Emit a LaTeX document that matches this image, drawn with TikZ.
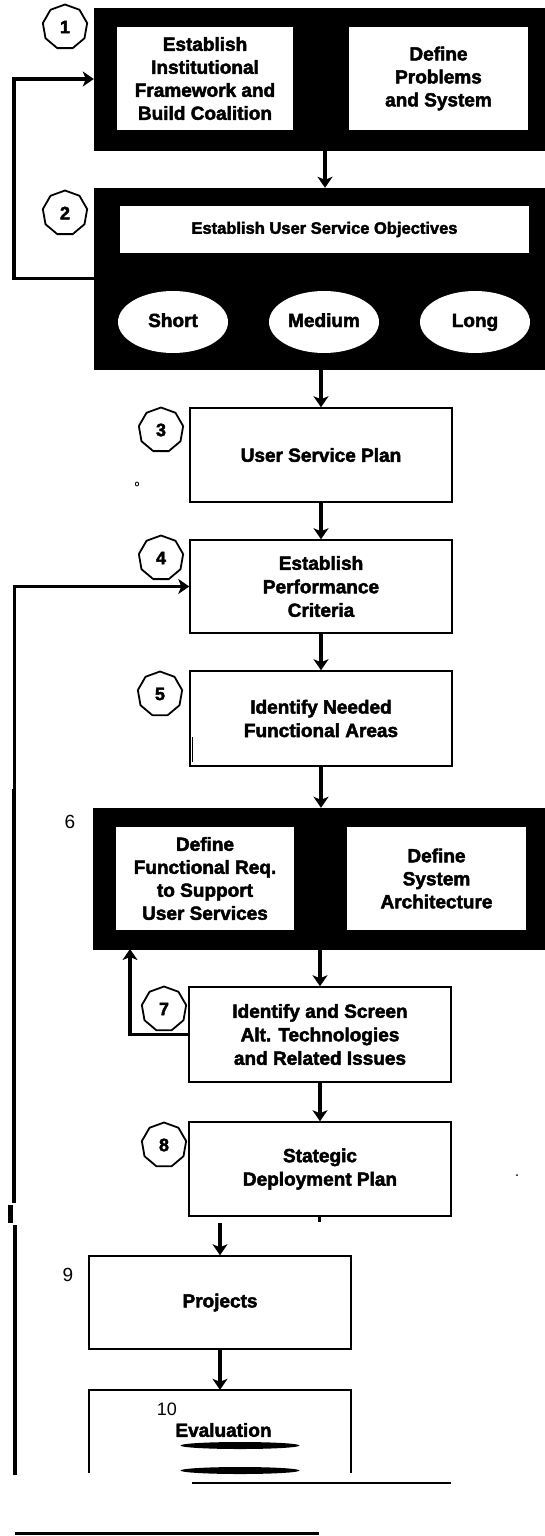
\documentclass[tikz,border=0pt]{standalone}
\usepackage{fontspec}
\setmainfont{Liberation Sans}[BoldFeatures={FakeBold=2.4}]
\usetikzlibrary{arrows.meta,shapes.geometric}

\tikzset{
  blackpanel/.style={fill=black, draw=black, inner sep=0pt},
  whitecell/.style={fill=white, draw=none, align=center, inner sep=0pt,
    font=\bfseries\fontsize{19}{23}\selectfont},
  stepbox/.style={draw=black, line width=1.5pt, fill=white, align=center,
    minimum width=262pt, minimum height=94pt, inner sep=0pt,
    font=\bfseries\fontsize{19}{23.5}\selectfont},
  badge/.style={regular polygon, regular polygon sides=9, draw=black,
    line width=1.8pt, fill=white, minimum size=45pt, inner sep=0pt,
    font=\bfseries\fontsize{18}{18}\selectfont},
  horizon/.style={ellipse, fill=white, draw=none, minimum width=110pt,
    minimum height=62pt, inner sep=0pt, text height=14pt, text depth=4pt,
    font=\bfseries\fontsize{19}{19}\selectfont},
  flow/.style={line width=3.2pt, -{Stealth[length=11pt,width=15pt,inset=3pt]}},
  plainnum/.style={font=\fontsize{19}{19}\selectfont, inner sep=0pt}
}

\begin{document}
\begin{tikzpicture}[x=1pt, y=-1pt]
\useasboundingbox (0,0) rectangle (545,1536);

% Step 1
\node[blackpanel, minimum width=451pt, minimum height=142pt] (b1) at (319.5,79) {};
\node[whitecell, minimum width=176pt, minimum height=103pt] (b1a) at (205,78.5)
  {Establish\\Institutional\\Framework and\\Build Coalition};
\node[whitecell, minimum width=179pt, minimum height=103pt] (b1b) at (438.5,78.5)
  {Define\\Problems\\and System};
\node[badge] (n1) at (65,27) {1};

% Step 2
\node[blackpanel, minimum width=451pt, minimum height=181pt] (b2) at (319.5,278.5) {};
\node[whitecell, minimum width=409pt, minimum height=47pt,
  font=\bfseries\fontsize{16.5}{16.5}\selectfont] (b2t) at (324.5,229.5)
  {Establish User Service Objectives};
\node[horizon] (short) at (173,322) {Short};
\node[horizon] (medium) at (324,322) {Medium};
\node[horizon] (long) at (475,322) {Long};
\node[badge] (n2) at (65,213) {2};

% Steps 3 to 5
\node[stepbox] (b3) at (321,455) {User Service Plan};
\node[badge] (n3) at (161,430) {3};
\node[stepbox, minimum height=93pt] (b4) at (321,586.5) {Establish\\Performance\\Criteria};
\node[stepbox, minimum height=95pt] (b5) at (321,718.5) {Identify Needed\\Functional Areas};
\node[badge] (n5) at (160,694) {5};

% Step 6
\node[blackpanel, minimum width=452pt, minimum height=141pt] (b6) at (319,878.5) {};
\node[whitecell, minimum width=178pt, minimum height=103pt] (b6a) at (205,878.5)
  {Define\\Functional Req.\\to Support\\User Services};
\node[whitecell, minimum width=179pt, minimum height=103pt] (b6b) at (436.5,878.5)
  {Define\\System\\Architecture};
\node[plainnum] (l6) at (70,822) {6};

% Steps 7 and 8
\node[stepbox, minimum height=95pt] (b7) at (320,1034.5)
  {Identify and Screen\\Alt. Technologies\\and Related Issues};
\node[stepbox] (b8) at (320,1169) {Stategic\\Deployment Plan};
\node[badge] (n8) at (164,1145) {8};

% Steps 9 and 10
\node[stepbox, minimum height=93pt] (b9) at (220,1302.5) {Projects};
\node[plainnum] (l9) at (68,1275) {9};
\node[inner sep=0pt, minimum width=262pt, minimum height=83pt] (b10) at (220,1431.5) {};
\draw[line width=1.5pt] (b10.south west) |- (b10.north east) -- (b10.south east);
\node[plainnum, font=\fontsize{18}{18}\selectfont] (l10) at (167,1409) {10};
\node[inner sep=0pt, font=\bfseries\fontsize{19}{19}\selectfont] (ev) at (223.5,1430) {Evaluation};
\fill (240,1445.5) ellipse [x radius=59.5pt, y radius=3.5pt];
\fill (240,1470.5) ellipse [x radius=59.5pt, y radius=3.5pt];

% Main flow
\draw[flow] ([xshift=5.5pt]b1.south) -- ([xshift=5.5pt]b2.north);
\draw[flow] (b2.south -| b3.north) -- (b3.north);
\draw[flow] (b3.south) -- (b4.north);
\draw[flow] (b4.south) -- (b5.north);
\draw[flow] (b5.south) -- (b5.south |- b6.north);
\draw[flow] (b7.north |- b6.south) -- (b7.north);
\draw[flow] (b7.south) -- (b8.north);
\coordinate (c89) at (220,1223);
\draw[flow] (c89) -- (b9.north);
\draw[flow] (b9.south) -- (b10.north);

% Feedback loops
\draw[flow, line width=3.5pt] (b2.west) -- ++(-80,0) |- (b1.west);
\coordinate (fbtop) at (14,791);
\coordinate (fbmid) at (14,1203);
\coordinate (fbjog) at (10.5,1205);
\coordinate (fblow) at (15,1225);
\coordinate (fbend) at (15,1475);
\draw[flow, line width=3pt] (fbtop) |- (b4.west);
\draw[line width=4.5pt] ([yshift=2pt]fbtop) -- (fbmid);
\draw[line width=4.5pt] (fbjog) -- ++(0,18);
\draw[line width=4.5pt] (fblow) -- (fbend);
\coordinate (fb7) at (130,949);
\draw[flow] (b7.west) -| (fb7);

% badges drawn over the loop lines
\node[badge] (n4) at (161,558) {4};
\node[badge] (n7) at (164,1009) {7};

% small marks
\draw[line width=1.5pt] (192.5,737) -- (192.5,762);
\draw[line width=3pt] (319,1216) -- (319,1222);
\draw[line width=0.8pt] (137,484) ellipse [x radius=1.6pt, y radius=2pt];
\fill (517,1175) circle (1pt);
\draw[line width=2pt] (192,1483) -- (451,1483);
\draw[line width=3.5pt] (15,1533.5) -- (319,1533.5);
\end{tikzpicture}
\end{document}
